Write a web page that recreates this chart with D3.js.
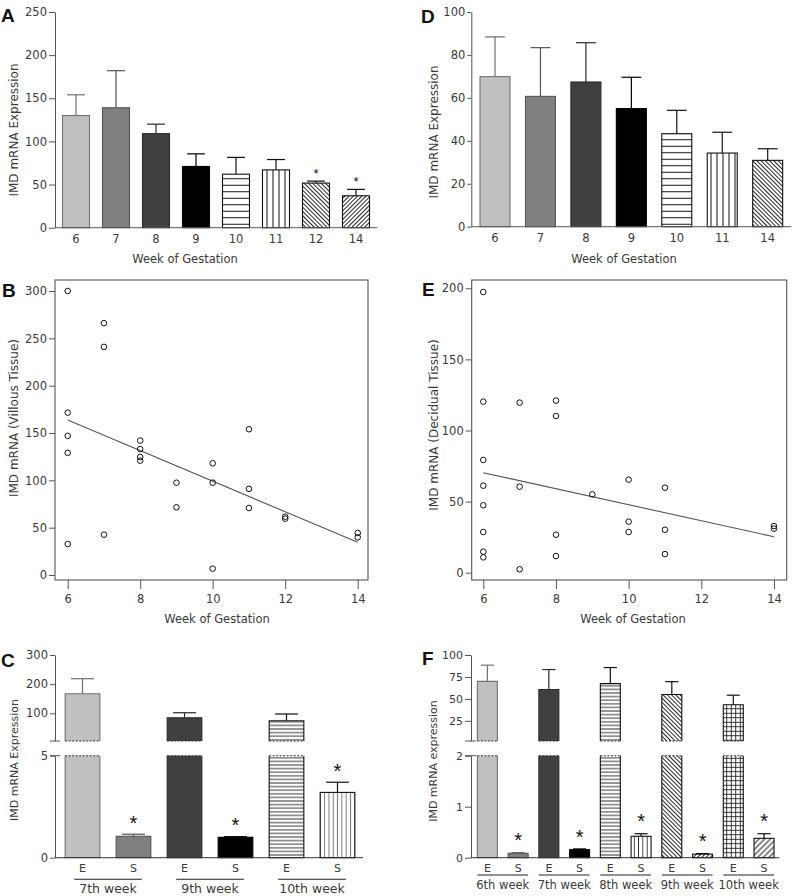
<!DOCTYPE html>
<html><head><meta charset="utf-8">
<script src="https://cdn.jsdelivr.net/npm/d3@7"></script>
<style>
body{margin:0;background:#fff}
svg text{font-family:"DejaVu Sans","Liberation Sans",Arial,sans-serif;fill:#3a3a3a}
</style></head><body>
<svg id="chart" width="794" height="896"></svg>
<script>
// ---------------- DATA ----------------
const weeksA = ["6","7","8","9","10","11","12","14"];
const meanA  = [130,139,109,71,62,67,51.7,37];
const semA   = [24,43,11,14.6,19.5,12,2.3,7.4];
const sigA   = ["12","14"];
const ticksA = [0,50,100,150,200,250];

const weeksD = ["6","7","8","9","10","11","14"];
const meanD  = [69.9,60.7,67.4,55,43.3,34.3,30.9];
const semD   = [18.5,22.7,18.3,14.6,10.9,9.7,5.4];
const ticksD = [0,20,40,60,80,100];

const weekB    = [6,6,6,6,6, 7,7,7, 8,8,8,8, 9,9, 10,10,10, 11,11,11, 12,12, 14,14];
const villousB = [300,171.5,147,129,32.7, 266,241,42.6, 142,133,124.6,120.8, 97.5,71.5, 118,97.5,6.7, 154,91,70.8, 61.6,59.5, 44.4,39.8];
const fitB     = [[6,163.7],[14,34.5]];
const ticksBx  = [6,8,10,12,14];
const ticksBy  = [0,50,100,150,200,250,300];

const weekE     = [6,6,6,6,6,6,6,6, 7,7,7, 8,8,8,8, 9, 10,10,10, 11,11,11, 14,14];
const decidualE = [197.4,120.3,79.3,61.2,47.4,28.6,14.8,10.8, 119.6,60.5,2.4, 121,110.2,26.7,11.7, 55.1, 65.4,35.9,28.6, 59.8,30.2,13.1, 32.8,31];
const fitE      = [[6,70.3],[14,25.3]];
const ticksEy   = [0,50,100,150,200];

const groupsC = ["7th week","9th week","10th week"];
const meanCE  = [167,85,74.6];
const semCE   = [51.7,17,23];
const meanCS  = [1.05,1.0,3.2];
const semCS   = [0.1,0.03,0.5];
const ticksCUp = [100,200,300];
const ticksCLo = [0,5];

const groupsF = ["6th week","7th week","8th week","9th week","10th week"];
const meanFE  = [69.9,60.7,67.4,55,43.3];
const semFE   = [18.5,22.7,18.3,14.6,10.9];
const meanFS  = [0.086,0.157,0.42,0.07,0.38];
const semFS   = [0.01,0.015,0.05,0.01,0.09];
const ticksFUp = [25,50,75,100];
const ticksFLo = [0,1,2];

// ---------------- STYLES ----------------
const fillsA = ["lgray","gray","dgray","black","hl","vl","dd","du"];
const fillsD = ["lgray","gray","dgray","black","hl","vl","dd"];
const fillsCE = ["lgray","dgray","hlD"];
const fillsCS = ["gray","black","vlDg"];
const fillsFE = ["lgray","dgray","hlD","dd","grid"];
const fillsFS = ["gray","black","vlD","du","du5"];

const svg = d3.select("#chart");
const defs = svg.append("defs");
function linePattern(id, sp, angle, color, sw){
  const p = defs.append("pattern").attr("id",id).attr("patternUnits","userSpaceOnUse")
    .attr("width",sp).attr("height",sp).attr("patternTransform",`rotate(${angle})`);
  p.append("rect").attr("width",sp).attr("height",sp).attr("fill","#fff");
  p.append("line").attr("x1",0).attr("x2",sp).attr("y1",sp/2).attr("y2",sp/2)
    .attr("stroke",color).attr("stroke-width",sw);
}
linePattern("hl",6.5,0,"#111",1);
linePattern("vl",6,90,"#111",1);
linePattern("dd",3,45,"#111",0.9);
linePattern("du",3,-45,"#111",0.9);
linePattern("du5",4,-45,"#111",1);
linePattern("hlD",3.6,0,"#222",0.9);
linePattern("vlD",4.3,90,"#222",0.9);
linePattern("vlDg",4.3,90,"#777",1);
(function(){
  const sp=4.5;
  const p = defs.append("pattern").attr("id","grid").attr("patternUnits","userSpaceOnUse")
    .attr("width",sp).attr("height",sp);
  p.append("rect").attr("width",sp).attr("height",sp).attr("fill","#fff");
  p.append("line").attr("x1",0).attr("x2",sp).attr("y1",sp/2).attr("y2",sp/2).attr("stroke","#222").attr("stroke-width",0.9);
  p.append("line").attr("y1",0).attr("y2",sp).attr("x1",sp/2).attr("x2",sp/2).attr("stroke","#222").attr("stroke-width",0.9);
})();
const STYLE = {
  lgray:{fill:"#c0c0c0",stroke:"#707070"},
  gray:{fill:"#808080",stroke:"#555"},
  dgray:{fill:"#404040",stroke:"#2a2a2a"},
  black:{fill:"#000",stroke:"#000"},
  hl:{fill:"url(#hl)",stroke:"#111"},
  vl:{fill:"url(#vl)",stroke:"#111"},
  dd:{fill:"url(#dd)",stroke:"#111"},
  du:{fill:"url(#du)",stroke:"#111"},
  du5:{fill:"url(#du5)",stroke:"#111"},
  hlD:{fill:"url(#hlD)",stroke:"#111"},
  vlD:{fill:"url(#vlD)",stroke:"#111"},
  vlDg:{fill:"url(#vlDg)",stroke:"#111"},
  grid:{fill:"url(#grid)",stroke:"#111"}
};
const AX = "#555";
const intFmt = d3.format("d");

function styleAxis(g, fs){
  g.selectAll("path,line").attr("stroke",AX).attr("stroke-width",1);
  g.selectAll("text").attr("font-size",fs).attr("fill","#3a3a3a");
  g.attr("font-family",null);
}
function letter(t,x,y){
  svg.append("text").text(t).attr("x",x).attr("y",y).attr("font-size",19).attr("font-weight","bold")
    .style("fill","#111").style("font-family","'Liberation Sans',Arial,sans-serif");
}
function ytitle(t,x,y,fs){
  svg.append("text").text(t).attr("transform",`translate(${x},${y}) rotate(-90)`)
    .attr("text-anchor","middle").attr("font-size",fs);
}
function xtitle(t,x,y,fs){
  svg.append("text").text(t).attr("x",x).attr("y",y).attr("text-anchor","middle").attr("font-size",fs);
}
function star(x,yTop,fs,gap){
  svg.append("text").text("*").attr("x",x).attr("y",yTop-gap+0.58*fs).attr("text-anchor","middle")
    .attr("font-size",fs).style("fill","#111").style("font-family","'Liberation Sans',Arial,sans-serif");
}
function errBar(g,cx,y0,y1,hw,color){
  g.append("line").attr("x1",cx).attr("x2",cx).attr("y1",y0).attr("y2",y1).attr("stroke",color).attr("stroke-width",1.2);
  g.append("line").attr("x1",cx-hw).attr("x2",cx+hw).attr("y1",y1).attr("y2",y1).attr("stroke",color).attr("stroke-width",1.2);
}

// ---------------- SIMPLE BAR PANELS (A, D) ----------------
function barPanel(o){
  const x = d3.scaleBand().domain(o.cats).range(o.xr).paddingInner(o.pi).paddingOuter(o.pi/2);
  const y = d3.scaleLinear().domain([0,o.ymax]).range(o.yr);
  const g = svg.append("g");
  o.cats.forEach((c,i)=>{
    const st = STYLE[o.fills[i]];
    const cx = x(c)+x.bandwidth()/2;
    errBar(g,cx,y(o.means[i]),y(o.means[i]+o.sems[i]),x.bandwidth()*0.33,st.stroke);
    g.append("rect").attr("x",x(c)).attr("y",y(o.means[i])).attr("width",x.bandwidth())
      .attr("height",y(0)-y(o.means[i])).attr("fill",st.fill).attr("stroke",st.stroke).attr("stroke-width",1.1);
    if(o.sig && o.sig.includes(c)) star(cx,y(o.means[i]+o.sems[i]),13,11);
  });
  const ya = svg.append("g").attr("transform",`translate(${o.xr[0]-1},0)`)
    .call(d3.axisLeft(y).tickValues(o.ticks).tickSize(o.ts).tickPadding(o.tp).tickSizeOuter(0).tickFormat(intFmt));
  styleAxis(ya,11.5);
  const xa = svg.append("g").attr("transform",`translate(0,${o.yr[0]})`)
    .call(d3.axisBottom(x).tickSize(0).tickPadding(7).tickSizeOuter(0));
  styleAxis(xa,11.5);
  xa.select("path").attr("d",`M${o.xr[0]-1},0H${o.xr[1]+1}`);
}
barPanel({cats:weeksA,means:meanA,sems:semA,fills:fillsA,sig:sigA,xr:[56,376],pi:0.325,
  ymax:250,yr:[227.7,12],ticks:ticksA,ts:6,tp:2});
barPanel({cats:weeksD,means:meanD,sems:semD,fills:fillsD,xr:[472.3,790.4],pi:0.34,
  ymax:100,yr:[226.7,12],ticks:ticksD,ts:4,tp:2});
letter("A",1,21.7); letter("D",421,22.7);
ytitle("IMD mRNA Expression",17.5,130,12);
ytitle("IMD mRNA Expression",437.5,132,12);
xtitle("Week of Gestation",185,263,11.5);
xtitle("Week of Gestation",624,263,11.5);

// ---------------- SCATTER PANELS (B, E) ----------------
function scatterPanel(o){
  const x = d3.scaleLinear().domain([6,14]).range(o.xr);
  const y = d3.scaleLinear().domain(o.yd).range(o.yr);
  svg.append("rect").attr("x",o.fx0).attr("y",o.fy0).attr("width",o.fx1-o.fx0).attr("height",o.fy1-o.fy0)
    .attr("fill","none").attr("stroke",AX).attr("stroke-width",1.1);
  const ya = svg.append("g").attr("transform",`translate(${o.fx0},0)`)
    .call(d3.axisLeft(y).tickValues(o.yticks).tickSize(o.ts).tickPadding(2).tickSizeOuter(0).tickFormat(intFmt));
  styleAxis(ya,11.5); ya.select("path").remove();
  const xa = svg.append("g").attr("transform",`translate(0,${o.fy1})`)
    .call(d3.axisBottom(x).tickValues(ticksBx).tickSize(9).tickPadding(6).tickSizeOuter(0).tickFormat(intFmt));
  styleAxis(xa,11.5); xa.select("path").remove();
  svg.append("path").datum(o.fit)
    .attr("d",d3.line().x(d=>x(d[0])).y(d=>y(d[1])))
    .attr("stroke","#555").attr("stroke-width",1.1).attr("fill","none");
  svg.append("g").selectAll("circle").data(o.xs.map((v,i)=>[v,o.ys[i]])).join("circle")
    .attr("cx",d=>x(d[0])).attr("cy",d=>y(d[1])).attr("r",2.8)
    .attr("fill","none").attr("stroke","#111").attr("stroke-width",1);
}
scatterPanel({xs:weekB,ys:villousB,fit:fitB,xr:[67.7,357.7],yd:[0,300],yr:[575,291],
  fx0:55,fx1:368,fy0:280,fy1:580,yticks:ticksBy,ts:6});
scatterPanel({xs:weekE,ys:decidualE,fit:fitE,xr:[483.3,774],yd:[0,200],yr:[572.7,288.3],
  fx0:471.7,fx1:786.7,fy0:280,fy1:580,yticks:ticksEy,ts:6});
letter("B",2,297); letter("E",422,296);
ytitle("IMD mRNA (Villous Tissue)",17.5,418,12);
ytitle("IMD mRNA (Decidual Tissue)",437.5,425,12);
xtitle("Week of Gestation",217,623,11.5);
xtitle("Week of Gestation",633,623,11.5);

// ---------------- BROKEN-AXIS PANELS (C, F) ----------------
function brokenPanel(o){
  const keys = [];
  o.groups.forEach((gname,i)=>{keys.push("E"+i); keys.push("S"+i);});
  const x = d3.scaleBand().domain(keys).range(o.xr).paddingInner(o.pi).paddingOuter(o.pi/2);
  const yU = d3.scaleLinear().domain(o.ud).range([741,655]);
  const yL = d3.scaleLinear().domain(o.ld).range([857.7,755.7]);
  const g = svg.append("g");
  const bw = x.bandwidth();
  const dot = (x1,x2,yy)=>g.append("line").attr("x1",x1).attr("x2",x2).attr("y1",yy).attr("y2",yy)
      .attr("stroke","#333").attr("stroke-width",1.1).attr("stroke-dasharray","2,1.5");
  o.groups.forEach((gname,i)=>{
    const stE = STYLE[o.fillsE[i]];
    const xe = x("E"+i), cxe = xe+bw/2;
    const eTop = yU(o.eMean[i]);
    errBar(g,cxe,eTop,yU(o.eMean[i]+o.eSem[i]),bw*0.33,stE.stroke);
    g.append("rect").attr("x",xe).attr("y",yL(o.ld[1])).attr("width",bw).attr("height",yL(0)-yL(o.ld[1])).attr("fill",stE.fill);
    g.append("path").attr("d",`M${xe},${yL(o.ld[1])}V${yL(0)}H${xe+bw}V${yL(o.ld[1])}`)
      .attr("fill","none").attr("stroke",stE.stroke).attr("stroke-width",1.1);
    dot(xe,xe+bw,yL(o.ld[1]));
    g.append("rect").attr("x",xe).attr("y",eTop).attr("width",bw).attr("height",yU(o.ud[0])-eTop).attr("fill",stE.fill);
    g.append("path").attr("d",`M${xe},${yU(o.ud[0])}V${eTop}H${xe+bw}V${yU(o.ud[0])}`)
      .attr("fill","none").attr("stroke",stE.stroke).attr("stroke-width",1.1);
    dot(xe,xe+bw,yU(o.ud[0]));
    const stS = STYLE[o.fillsS[i]];
    const xs = x("S"+i), cxs = xs+bw/2;
    const eS = yL(o.sMean[i]+o.sSem[i]);
    errBar(g,cxs,yL(o.sMean[i]),eS,bw*0.33,stS.stroke);
    g.append("rect").attr("x",xs).attr("y",yL(o.sMean[i])).attr("width",bw).attr("height",yL(0)-yL(o.sMean[i]))
      .attr("fill",stS.fill).attr("stroke",stS.stroke).attr("stroke-width",1.1);
    star(cxs,eS,o.starFs,o.starGap);
    svg.append("line").attr("x1",xe+o.ulIn).attr("x2",xs+bw-o.ulIn).attr("y1",o.ulY).attr("y2",o.ulY)
      .attr("stroke","#222").attr("stroke-width",1.1);
    svg.append("text").text(gname).attr("x",(xe+xs+bw)/2).attr("y",o.glY).attr("text-anchor","middle").attr("font-size",o.glFs);
  });
  const ax0 = o.axisX;
  const yu = svg.append("g").attr("transform",`translate(${ax0},0)`)
    .call(d3.axisLeft(yU).tickValues(o.ticksUp).tickSize(o.ts).tickPadding(2).tickSizeOuter(0).tickFormat(intFmt));
  styleAxis(yu,o.tickFs);
  const yl = svg.append("g").attr("transform",`translate(${ax0},0)`)
    .call(d3.axisLeft(yL).tickValues(o.ticksLo).tickSize(o.ts).tickPadding(2).tickSizeOuter(0).tickFormat(intFmt));
  styleAxis(yl,o.tickFs);
  [yU(o.ud[0]), yL(o.ld[1])].forEach(yy=>{
    svg.append("line").attr("x1",ax0-o.ts).attr("x2",ax0+5).attr("y1",yy).attr("y2",yy).attr("stroke",AX).attr("stroke-width",1);
  });
  const xa = svg.append("g").attr("transform",`translate(0,857.7)`)
    .call(d3.axisBottom(x).tickSize(0).tickPadding(7).tickSizeOuter(0).tickFormat(k=>k[0]));
  styleAxis(xa,o.esFs);
  xa.select("path").attr("d",`M${ax0},0H${o.xr[1]}`).attr("stroke","#333");
}
brokenPanel({groups:groupsC,eMean:meanCE,eSem:semCE,sMean:meanCS,sSem:semCS,fillsE:fillsCE,fillsS:fillsCS,
  xr:[57,363],pi:0.32,ud:[5,300],ld:[0,5],ticksUp:ticksCUp,ticksLo:ticksCLo,axisX:55,ts:5,tickFs:11.5,
  starFs:20,starGap:16,ulY:879.3,ulIn:9,glY:893,glFs:12.5,esFs:11});
brokenPanel({groups:groupsF,eMean:meanFE,eSem:semFE,sMean:meanFS,sSem:semFS,fillsE:fillsFE,fillsS:fillsFS,
  xr:[472,779.4],pi:0.35,ud:[2,100],ld:[0,2],ticksUp:ticksFUp,ticksLo:ticksFLo,axisX:471,ts:6,tickFs:11,
  starFs:20,starGap:17,ulY:875,ulIn:0,glY:889,glFs:11.5,esFs:11});
letter("C",1,667); letter("F",422,665);
ytitle("IMD mRNA Expression",17.5,760,11);
ytitle("IMD mRNA expression",437,761,11);
</script></body></html>
